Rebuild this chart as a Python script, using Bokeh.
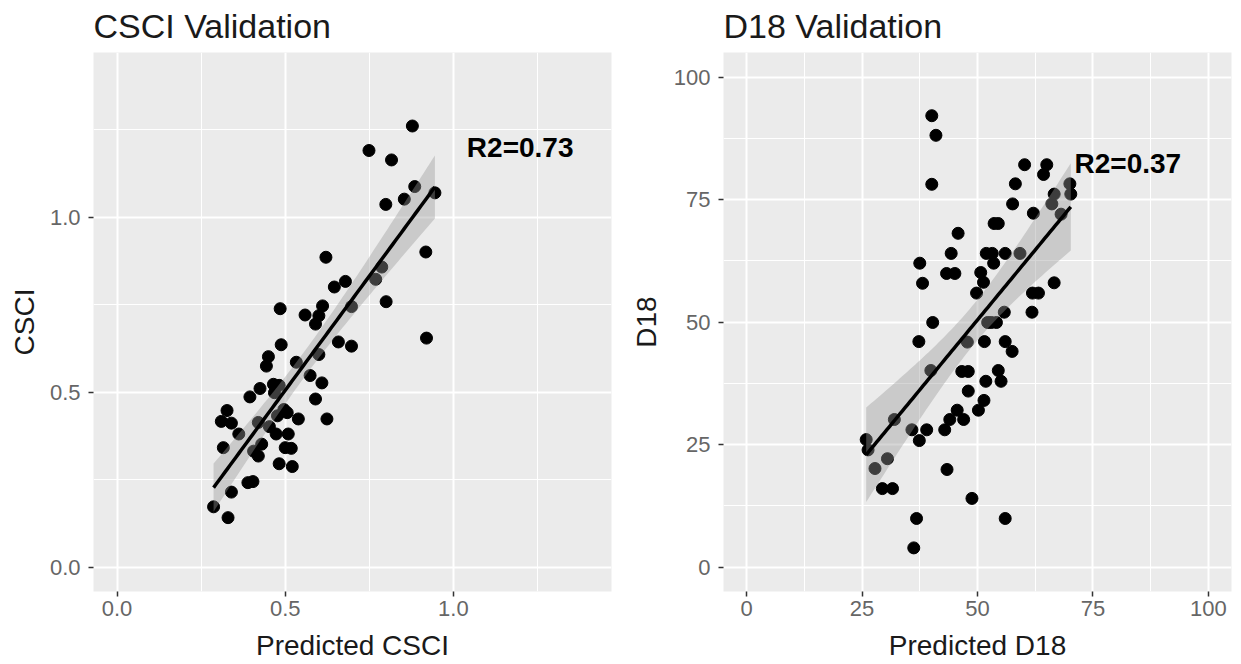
import numpy as np
from bokeh.plotting import figure
from bokeh.layouts import row
from bokeh.models import FixedTicker, Range1d, Label, NumeralTickFormatter
from bokeh.embed import file_html
from bokeh.resources import INLINE

# ---- data ----
csci_pred = [0.878, 0.749, 0.816, 0.885, 0.945, 0.854, 0.799, 0.621, 0.918, 0.787,
             0.769, 0.679, 0.646, 0.800, 0.697, 0.485, 0.611, 0.559, 0.600, 0.590,
             0.920, 0.658, 0.697, 0.488, 0.600, 0.450, 0.444, 0.533, 0.574, 0.609,
             0.465, 0.482, 0.425, 0.395, 0.590, 0.468, 0.496, 0.477, 0.506, 0.539,
             0.624, 0.327, 0.310, 0.340, 0.420, 0.453, 0.362, 0.473, 0.509, 0.430,
             0.316, 0.500, 0.518, 0.406, 0.420, 0.482, 0.521, 0.389, 0.404, 0.340,
             0.287, 0.330]
csci_obs = [1.260, 1.190, 1.163, 1.087, 1.069, 1.051, 1.036, 0.885, 0.900, 0.857,
            0.822, 0.816, 0.800, 0.758, 0.744, 0.738, 0.746, 0.720, 0.718, 0.694,
            0.654, 0.643, 0.631, 0.635, 0.607, 0.601, 0.574, 0.585, 0.547, 0.526,
            0.522, 0.519, 0.510, 0.486, 0.480, 0.498, 0.450, 0.432, 0.441, 0.423,
            0.423, 0.447, 0.416, 0.411, 0.413, 0.401, 0.380, 0.380, 0.380, 0.351,
            0.341, 0.341, 0.339, 0.331, 0.317, 0.295, 0.287, 0.241, 0.244, 0.214,
            0.172, 0.141]

d18_pred = [40.1, 41.0, 40.1, 60.2, 65.0, 64.3, 70.0, 58.2, 66.6, 70.2,
            57.6, 66.1, 68.1, 62.1, 53.6, 54.5, 45.8, 37.5, 44.3, 51.9,
            53.2, 56.0, 59.2, 53.5, 43.3, 45.1, 50.7, 51.3, 38.1, 49.8,
            61.9, 63.2, 66.6, 61.8, 55.8, 40.3, 52.2, 54.1, 53.0, 37.3,
            47.8, 51.5, 56.0, 57.5, 39.9, 46.6, 48.0, 54.5, 55.1, 51.8,
            48.0, 51.4, 45.6, 50.2, 44.0, 47.0, 32.0, 35.8, 39.0, 42.9,
            37.4, 25.9, 26.3, 30.5, 27.8, 43.4, 29.4, 31.6, 48.8, 36.8,
            56.0, 36.2]
d18_obs = [92.1, 88.1, 78.1, 82.1, 82.1, 80.1, 78.2, 78.2, 76.1, 76.1,
           74.1, 74.1, 72.0, 72.2, 70.1, 70.1, 68.1, 62.0, 64.0, 64.0,
           64.0, 64.0, 64.0, 62.0, 59.9, 59.9, 60.1, 58.1, 57.9, 55.9,
           55.9, 55.9, 58.0, 52.0, 52.0, 49.9, 49.9, 49.9, 49.9, 46.0,
           45.9, 46.0, 46.0, 44.0, 40.1, 39.9, 39.9, 40.1, 37.9, 37.9,
           35.9, 34.0, 32.0, 32.0, 30.1, 30.1, 30.1, 28.0, 28.0, 28.0,
           25.8, 26.0, 23.9, 22.1, 20.1, 19.9, 16.0, 16.0, 14.0, 9.9,
           9.9, 3.9]

csci_ticks = [0.0, 0.5, 1.0]
csci_minor = [0.25, 0.75, 1.25]
d18_ticks = [0, 25, 50, 75, 100]
d18_minor = [12.5, 37.5, 62.5, 87.5]

titles = ["CSCI Validation", "D18 Validation"]
xlabels = ["Predicted CSCI", "Predicted D18"]
ylabels = ["CSCI", "D18"]
r2_labels = ["R2=0.73", "R2=0.37"]

FONT = "Liberation Sans"


def lm_band(x, y, n_pts=80, t=2.0):
    x = np.asarray(x, float)
    y = np.asarray(y, float)
    b, a = np.polyfit(x, y, 1)
    n = len(x)
    resid = y - (a + b * x)
    s = np.sqrt(np.sum(resid ** 2) / (n - 2))
    xm = x.mean()
    sxx = np.sum((x - xm) ** 2)
    xs = np.linspace(x.min(), x.max(), n_pts)
    fit = a + b * xs
    se = s * np.sqrt(1.0 / n + (xs - xm) ** 2 / sxx)
    return xs, fit, fit - t * se, fit + t * se


def make_fig(title, xlab, ylab, xr, yr, ticks, minor, width, left, right,
             x, y, r2, r2x, r2y, fmt=None, ylab_standoff=7, ylabel_gap=8):
    p = figure(width=width, height=663, x_range=Range1d(*xr), y_range=Range1d(*yr),
               output_backend="svg", toolbar_location=None,
               min_border_left=left, min_border_right=right,
               min_border_top=52, min_border_bottom=71,
               background_fill_color="#EBEBEB", border_fill_color="white",
               outline_line_color=None, title=title)
    p.title.text_font = FONT
    p.title.text_font_size = "34px"
    p.title.text_font_style = "normal"
    p.title.text_color = "#1a1a1a"
    p.title.align = "left"
    p.title.vertical_align = "top"
    p.title.standoff = 12

    for ax, grid in ((p.xaxis[0], p.xgrid[0]), (p.yaxis[0], p.ygrid[0])):
        tk = FixedTicker(ticks=ticks, minor_ticks=minor)
        ax.ticker = tk
        grid.ticker = tk
        ax.axis_line_color = None
        ax.major_tick_line_color = "#333333"
        ax.major_tick_line_width = 1.5
        ax.major_tick_out = 5
        ax.major_tick_in = 0
        ax.minor_tick_line_color = None
        ax.major_label_text_font = FONT
        ax.major_label_text_font_size = "22px"
        ax.major_label_text_color = "#666666"
        ax.axis_label_text_font = FONT
        ax.axis_label_text_font_size = "28px"
        ax.axis_label_text_font_style = "normal"
        ax.axis_label_text_color = "#1a1a1a"
        if fmt:
            ax.formatter = NumeralTickFormatter(format=fmt)
        grid.grid_line_color = "white"
        grid.grid_line_width = 2
        grid.minor_grid_line_color = "white"
        grid.minor_grid_line_width = 1

    p.xaxis.axis_label = xlab
    p.yaxis.axis_label = ylab
    p.xaxis.major_label_standoff = 4
    p.xaxis.axis_label_standoff = 11
    p.yaxis.major_label_standoff = ylabel_gap
    p.yaxis.axis_label_standoff = ylab_standoff

    p.scatter(x, y, size=12, fill_color="black", line_color="black")
    xs, fit, lo, hi = lm_band(x, y)
    p.varea(x=xs, y1=lo, y2=hi, fill_color="#999999", fill_alpha=0.4)
    p.line(xs, fit, line_color="black", line_width=3.5)

    p.add_layout(Label(x=r2x, y=r2y, text=r2, text_font=FONT, text_font_size="28px",
                       text_font_style="bold", text_color="black",
                       text_baseline="middle", text_align="left"))
    return p


p1 = make_fig(titles[0], xlabels[0], ylabels[0], (-0.07, 1.47), (-0.07, 1.47),
              csci_ticks, csci_minor, 620, 93, 9, csci_pred, csci_obs,
              r2_labels[0], 1.04, 1.20, fmt="0.0", ylab_standoff=7, ylabel_gap=8)
p2 = make_fig(titles[1], xlabels[1], ylabels[1], (-5, 105), (-5, 105),
              d18_ticks, d18_minor, 620, 103, 9, d18_pred, d18_obs,
              r2_labels[1], 71.0, 82.3, ylab_standoff=9, ylabel_gap=8)

layout = row(p1, p2)
open("out.html", "w").write(file_html(layout, INLINE))
